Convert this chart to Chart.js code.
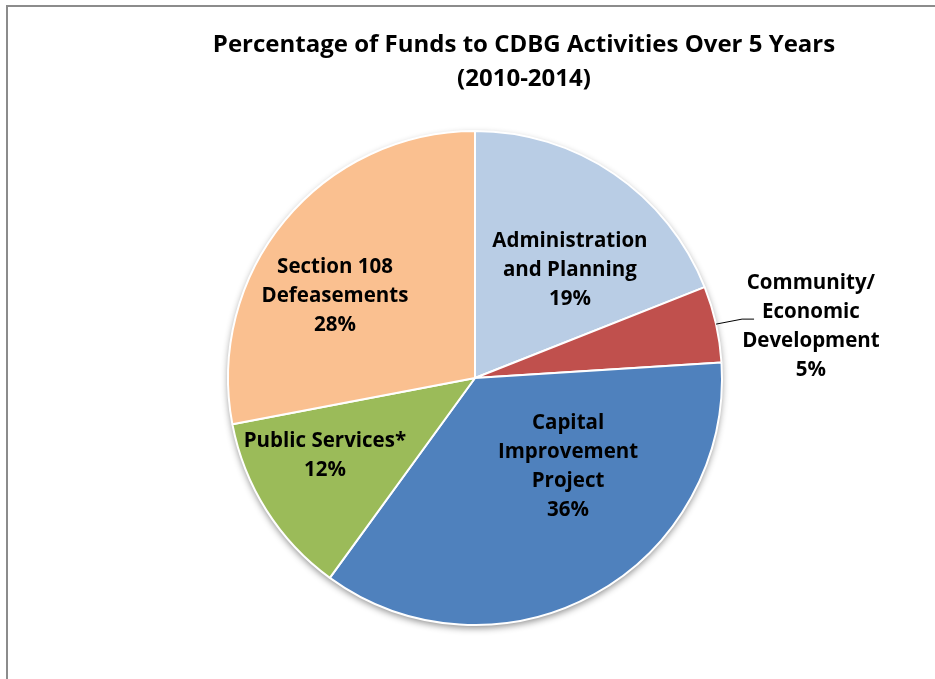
<!DOCTYPE html>
<html lang="en">
<head>
<meta charset="UTF-8">
<title>CDBG Funds 2010-2014</title>
<script src="https://cdn.jsdelivr.net/npm/chart.js"></script>
<style>
    body { margin: 0; background: #fff; }
    #wrap { position: relative; width: 935px; height: 679px; }
</style>
</head>
<body>
<div id="wrap">
    <canvas id="fundsChart" width="935" height="679"></canvas>
</div>

<script>
// chart data
const titleLines = ['Percentage of Funds to CDBG Activities Over 5 Years', '(2010-2014)'];
const activities = [
    ['Administration', 'and Planning'],
    ['Community/', 'Economic', 'Development'],
    ['Capital', 'Improvement', 'Project'],
    ['Public Services*'],
    ['Section 108', 'Defeasements']
];
const percents = [19, 5, 36, 12, 28];
const sliceColors = ['#B9CDE5', '#C0504D', '#4F81BD', '#9BBB59', '#FAC090'];

// where each label sits: fraction of radius, angle (deg clockwise from top)
const labelSpots = [
    { r: 0.587, a: 40.9 },
    { r: 1.377, a: 81.0 },
    { r: 0.516, a: 133.1 },
    { r: 0.682, a: 243.0 },
    { r: 0.660, a: 300.8 }
];

const FONT = '"Open Sans", Lato, sans-serif';

// grey frame + title
const frameAndTitle = {
    id: 'frameAndTitle',
    beforeDraw(chart) {
        const ctx = chart.ctx;
        ctx.save();
        ctx.strokeStyle = '#8c8c8c';
        ctx.lineWidth = 2;
        ctx.beginPath();
        ctx.moveTo(7, 700);
        ctx.lineTo(7, 6);
        ctx.lineTo(950, 6);
        ctx.stroke();

        ctx.fillStyle = '#000';
        ctx.font = 'bold 24px ' + FONT;
        ctx.textAlign = 'center';
        ctx.textBaseline = 'alphabetic';
        ctx.fillText(titleLines[0], 524, 52);
        ctx.fillText(titleLines[1], 524, 86);
        ctx.restore();
    },
    // soft shadow under the pie
    beforeDatasetsDraw(chart) {
        const arc = chart.getDatasetMeta(0).data[0];
        if (!arc) return;
        const ctx = chart.ctx;
        ctx.save();
        ctx.shadowColor = 'rgba(0,0,0,0.45)';
        ctx.shadowBlur = 7;
        ctx.shadowOffsetY = 3;
        ctx.fillStyle = '#fff';
        ctx.beginPath();
        ctx.arc(arc.x, arc.y, arc.outerRadius, 0, Math.PI * 2);
        ctx.fill();
        ctx.restore();
    }
};

// category + percent labels, with a leader line for the small slice
const sliceLabels = {
    id: 'sliceLabels',
    afterDatasetsDraw(chart) {
        const ctx = chart.ctx;
        const arcs = chart.getDatasetMeta(0).data;
        const size = 20.5, lh = 29, cap = size * 0.72;
        ctx.save();
        ctx.font = 'bold ' + size + 'px ' + FONT;
        ctx.fillStyle = '#000';
        ctx.textAlign = 'center';
        ctx.textBaseline = 'alphabetic';
        arcs.forEach((arc, i) => {
            const spot = labelSpots[i];
            const ang = spot.a * Math.PI / 180;
            const cx = arc.x + Math.sin(ang) * arc.outerRadius * spot.r;
            const cy = arc.y - Math.cos(ang) * arc.outerRadius * spot.r;
            const lines = activities[i].concat([percents[i] + '%']);
            const top = cy - (lines.length - 1) * lh / 2;
            lines.forEach((t, k) => ctx.fillText(t, cx, top + k * lh + cap / 2));

            if (spot.r > 1) {
                const mid = (arc.startAngle + arc.endAngle) / 2;
                const sx = arc.x + Math.cos(mid) * arc.outerRadius;
                const sy = arc.y + Math.sin(mid) * arc.outerRadius;
                ctx.strokeStyle = '#000';
                ctx.lineWidth = 1;
                ctx.beginPath();
                ctx.moveTo(sx, sy);
                ctx.lineTo(sx + 26, sy - 5);
                ctx.lineTo(sx + 38, sy - 5);
                ctx.stroke();
            }
        });
        ctx.restore();
    }
};

new Chart(document.getElementById('fundsChart'), {
    type: 'pie',
    data: {
        labels: activities.map(a => a.join(' ')),
        datasets: [{
            data: percents,
            backgroundColor: sliceColors,
            borderColor: '#fff',
            borderWidth: 2
        }]
    },
    options: {
        responsive: false,
        devicePixelRatio: 1,
        animation: false,
        layout: { padding: { top: 130, bottom: 53, left: 227, right: 212 } },
        plugins: {
            legend: { display: false },
            tooltip: { enabled: false },
            title: { display: false }
        }
    },
    plugins: [frameAndTitle, sliceLabels]
});
</script>
</body>
</html>
